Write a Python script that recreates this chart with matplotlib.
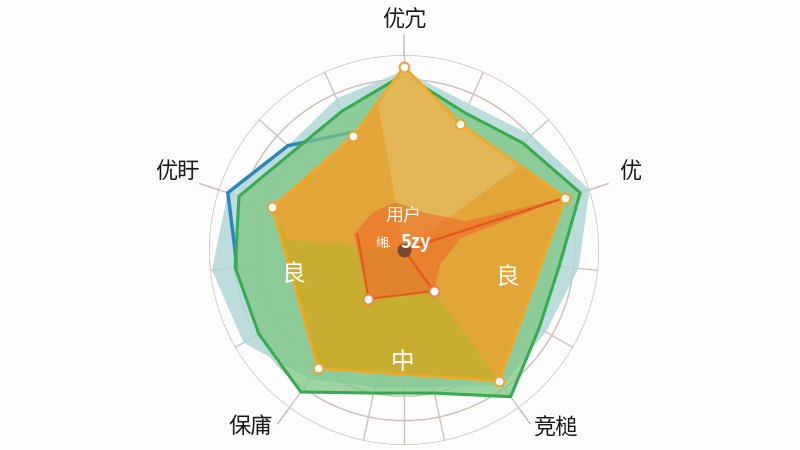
import numpy as np
import matplotlib.pyplot as plt

plt.rcParams['font.family'] = ['Noto Sans CJK SC', 'DejaVu Sans']

# five category axes (degrees, counter-clockwise from east)
categories = ['优宂', '优', '竞槌', '保庯', '优盱']
cat_angles = [90, 18, -54, -126, 162]
label_ang = [90, 19, -49.7, -131, 161]
label_r = [1.18, 1.23, 1.2, 1.2, 1.23]

# background grid: 15 spokes + 8 rings
spoke_angles = list(range(90, 90 - 360, -24)) + [-90]
rings = [i / 8 for i in range(1, 9)]

# light blue series
blue_ang = [90, 66, 42, 18, -6, -30, -54, -78, -102, -126, -150, -174, 162, 138, 114]
blue_r = [0.92, 0.82, 0.88, 1.0, 0.9, 0.84, 0.86, 0.72, 0.72, 0.82, 0.95, 0.99, 0.95, 0.8, 0.85]
blue_line_ang = [-174, 162, 138, 114]
blue_line_r = [0.86, 0.95, 0.8, 0.66]

# green series
green_ang = [90, 66, 42, 18, -6, -30, -54, -78, -102, -126, -150, -174, 162, 138, 114]
green_r = [0.9, 0.77, 0.82, 0.95, 0.8, 0.8, 0.93, 0.75, 0.75, 0.9, 0.86, 0.87, 0.89, 0.76, 0.78]

# orange series (main, with markers)
orange_ang = [90, 66, 18, -54, -126, 162, 114]
orange_r = [0.94, 0.71, 0.87, 0.83, 0.75, 0.71, 0.64]

# shading inside the orange area
olive_ang = [0, 175, 162, -126, -54]
olive_r = [0, 0.6, 0.71, 0.75, 0.83]
beige_ang = [0, 100, 90, 66, 36]
beige_r = [0, 0.76, 0.94, 0.71, 0.74]

# inner red series
red_fill_ang = [100, 60, 25, 18, 12, -20, -54, -90, -126, 162, 130]
red_fill_r = [0.25, 0.22, 0.35, 0.87, 0.3, 0.2, 0.26, 0.22, 0.31, 0.27, 0.25]
red_line_ang = [162, -126, -54, 0, 18]
red_line_r = [0.25, 0.31, 0.26, 0, 0.87]
red_marker_ang = [-54, -126]
red_marker_r = [0.26, 0.31]

# inner labels
inner_text = ['良', '良', '中']
inner_ang = [192.7, -15, -90.5]
inner_r = [0.58, 0.55, 0.575]


def closed(ang, r):
    a = np.deg2rad(list(ang) + [ang[0]])
    return a, list(r) + [r[0]]


fig = plt.figure(figsize=(8, 4.5), dpi=100)
fig.patch.set_facecolor('#fdfdfd')
ax = fig.add_axes([0.26125, 0.0111, 0.4875, 0.8667], projection='polar')
ax.set_facecolor('none')
ax.set_ylim(0, 1)
ax.grid(False)
ax.spines['polar'].set_visible(False)
ax.set_xticks([])
ax.set_yticks([])

th = np.linspace(0, 2 * np.pi, 400)
for rr in rings:
    ax.plot(th, [rr] * len(th), color='#cbc4bd', lw=1.1, zorder=1)
for a in spoke_angles:
    ax.plot([np.deg2rad(a)] * 2, [0, 1], color='#cbc4bd', lw=1.0, zorder=1)
for a in cat_angles:
    ax.plot([np.deg2rad(a)] * 2, [1, 1.1], color='#cbc4bd', lw=1.2, zorder=1, clip_on=False)

a, r = closed(blue_ang, blue_r)
ax.fill(a, r, color='#b2d7d8', alpha=0.85, lw=0, zorder=2)
ax.plot(np.deg2rad(blue_line_ang), blue_line_r, color='#2a86bb', lw=2.5, zorder=3)

a, r = closed(green_ang, green_r)
ax.fill(a, r, color='#7ec783', alpha=0.75, lw=0, zorder=3)
ax.plot(a, r, color='#35ad4e', lw=2.2, zorder=3)

a, r = closed(orange_ang, orange_r)
ax.fill(a, r, color='#efa02a', alpha=0.88, lw=0, zorder=4)
a, r = closed(olive_ang, olive_r)
ax.fill(a, r, color='#a8b828', alpha=0.45, lw=0, zorder=4)
a, r = closed(beige_ang, beige_r)
ax.fill(a, r, color='#e2c878', alpha=0.5, lw=0, zorder=4)
a, r = closed(orange_ang, orange_r)
ax.plot(a, r, color='#f5a623', lw=1.8, zorder=5)
ax.plot(np.deg2rad(orange_ang), orange_r, 'o', ms=7, mfc='white', mec='#eba33a', mew=1.5, zorder=6)

a, r = closed(red_fill_ang, red_fill_r)
ax.fill(a, r, color='#f06a28', alpha=0.6, lw=0, zorder=5)
ax.plot(np.deg2rad(red_line_ang), red_line_r, color='#e8521a', lw=1.6, alpha=0.9, zorder=5)
ax.plot(np.deg2rad(red_marker_ang), red_marker_r, 'o', ms=7, mfc='white', mec='#f08040', mew=1.2, zorder=6)
ax.plot([0], [0], 'o', ms=9, color='#7a4a30', zorder=6)

for lab, ang, rr in zip(categories, label_ang, label_r):
    ax.text(np.deg2rad(ang), rr, lab, fontsize=16, color='#1a1a1a', ha='center', va='center', clip_on=False)

for lab, ang, rr in zip(inner_text, inner_ang, inner_r):
    ax.text(np.deg2rad(ang), rr, lab, fontsize=17, color='white', ha='center', va='center', zorder=7)

ax.text(np.deg2rad(91.6), 0.18, '用户', fontsize=13, color='white', ha='center', va='center', zorder=7)
ax.text(np.deg2rad(162), 0.11, '缃.', fontsize=9, color='white', ha='center', va='center', zorder=7)
ax.text(np.deg2rad(32), 0.07, '5zy', fontsize=13, color='white', fontweight='bold', ha='center', va='center', zorder=7)

fig.savefig('out.png', dpi=100, facecolor=fig.get_facecolor())
